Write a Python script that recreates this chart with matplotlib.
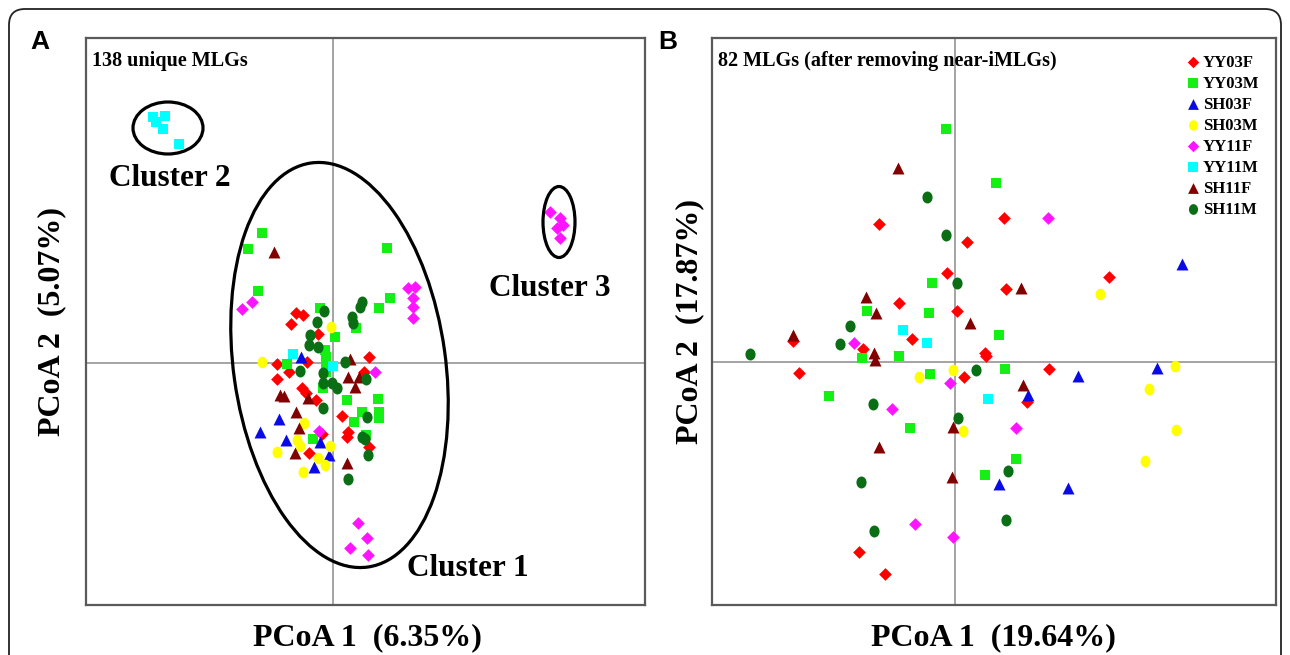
import matplotlib
matplotlib.use("Agg")
import matplotlib.pyplot as plt
from matplotlib.patches import Ellipse, FancyBboxPatch
from matplotlib.markers import MarkerStyle
from matplotlib.transforms import Affine2D

# groups, colours, markers
groups = ["YY03F", "YY03M", "SH03F", "SH03M", "YY11F", "YY11M", "SH11F", "SH11M"]
colors = ["#ff0000", "#14f014", "#0a0ae6", "#ffff00", "#ff14ff", "#00ffff", "#820000", "#0a6e14"]

# ---- panel A: 138 unique MLGs (PCoA 1 vs PCoA 2 scores) ----
a_YY03F_x = [-0.37, -0.30, -0.42, -0.15, -0.56, -0.26, 0.36, -0.44, 0.31, -0.56, -0.31, -0.27, -0.17, 0.09, -0.11, 0.14, 0.15, 0.36, -0.24]
a_YY03F_y = [0.50, 0.48, 0.39, 0.29, -0.01, 0.01, 0.06, -0.09, -0.09, -0.16, -0.25, -0.30, -0.37, -0.53, -0.71, -0.74, -0.69, -0.84, -0.90]
a_YY03M_x = [-0.71, -0.85, 0.54, -0.75, 0.57, 0.46, 0.23, -0.13, 0.02, -0.08, -0.07, -0.46, -0.07, -0.07, -0.10, 0.14, 0.45, 0.46, 0.46, 0.29, 0.21, -0.20, 0.33]
a_YY03M_y = [1.30, 1.14, 1.15, 0.72, 0.65, 0.55, 0.35, 0.55, 0.26, 0.13, 0.06, -0.01, -0.02, -0.09, -0.25, -0.37, -0.36, -0.49, -0.55, -0.49, -0.59, -0.76, -0.72]
a_SH03F_x = [-0.32, -0.54, -0.73, -0.47, -0.13, -0.04, -0.19]
a_SH03F_y = [0.06, -0.56, -0.69, -0.77, -0.79, -0.92, -1.04]
a_SH03M_x = [-0.71, -0.02, -0.29, -0.36, -0.33, -0.03, -0.56, -0.15, -0.08, -0.30]
a_SH03M_y = [0.01, 0.36, -0.60, -0.77, -0.83, -0.83, -0.89, -0.95, -1.02, -1.09]
a_YY11F_x = [-0.81, -0.91, 0.75, 0.82, 0.80, 0.80, 0.80, 0.42, -0.14, 0.25, 0.34, 0.17, 0.35, 2.17, 2.27, 2.30, 2.24, 2.27]
a_YY11F_y = [0.61, 0.54, 0.75, 0.76, 0.65, 0.56, 0.45, -0.09, -0.68, -1.60, -1.75, -1.85, -1.92, 1.51, 1.45, 1.38, 1.35, 1.25]
a_YY11M_x = [-0.40, 0.00, -1.80, -1.68, -1.77, -1.70, -1.54]
a_YY11M_y = [0.09, -0.03, 2.46, 2.47, 2.41, 2.34, 2.19]
a_SH11F_x = [-0.59, 0.17, 0.15, 0.26, -0.53, -0.49, -0.25, 0.22, -0.37, -0.34, -0.38, 0.14]
a_SH11F_y = [1.11, 0.04, -0.14, -0.14, -0.32, -0.33, -0.35, -0.24, -0.49, -0.65, -0.90, -1.00]
a_SH11M_x = [0.29, 0.27, 0.19, 0.20, -0.09, -0.16, -0.23, -0.24, -0.15, 0.12, -0.33, -0.10, 0.33, -0.10, -0.01, 0.04, 0.34, -0.10, 0.29, 0.32, 0.35, 0.15]
a_SH11M_y = [0.61, 0.56, 0.46, 0.40, 0.52, 0.41, 0.28, 0.18, 0.16, 0.01, -0.08, -0.10, -0.16, -0.20, -0.20, -0.25, -0.54, -0.45, -0.74, -0.76, -0.92, -1.16]

# ---- panel B: 82 MLGs after removing near-iMLGs ----
b_YY03F_x = [-0.76, 0.12, -0.08, -0.56, 0.02, -0.43, -1.62, -0.92, 0.30, -1.56, 0.09, 0.49, 1.54, 0.51, 0.31, 0.94, 0.72, -0.96, -0.70]
b_YY03F_y = [1.38, 1.20, 0.89, 0.59, 0.51, 0.23, 0.21, 0.13, 0.09, -0.11, -0.15, 1.44, 0.85, 0.73, 0.06, -0.07, -0.40, -1.90, -2.12]
b_YY03M_x = [-0.09, 0.41, -0.23, -0.88, -0.26, -0.93, -0.56, -0.25, -1.26, -0.45, 0.30, 0.44, 0.50, 0.61]
b_YY03M_y = [2.33, 1.79, 0.79, 0.51, 0.49, 0.04, 0.06, -0.12, -0.34, -0.66, -1.13, 0.27, -0.07, -0.97]
b_SH03F_x = [2.27, 1.23, 2.02, 0.73, 0.44, 1.13]
b_SH03F_y = [0.98, -0.14, -0.06, -0.33, -1.22, -1.26]
b_SH03M_x = [-0.36, -0.02, 0.08, 1.45, 2.20, 1.94, 2.21, 1.90]
b_SH03M_y = [-0.15, -0.08, -0.69, 0.68, -0.04, -0.27, -0.68, -0.99]
b_YY11F_x = [-1.01, -0.05, -0.63, -0.40, -0.02, 0.93, 0.61]
b_YY11F_y = [0.19, -0.21, -0.47, -1.62, -1.75, 1.44, -0.66]
b_YY11M_x = [-0.52, -0.28, 0.33]
b_YY11M_y = [0.32, 0.19, -0.37]
b_SH11F_x = [-0.57, -0.89, -0.79, 0.15, -1.62, -0.81, -0.80, -0.02, -0.76, -0.03, 0.66, 0.68]
b_SH11F_y = [1.94, 0.65, 0.49, 0.39, 0.27, 0.09, 0.02, -0.65, -0.85, -1.15, 0.74, -0.23]
b_SH11M_x = [-0.28, -0.09, 0.02, -1.05, -1.15, -2.05, 0.21, -0.82, 0.03, -0.94, -0.81, 0.53, 0.51]
b_SH11M_y = [1.65, 1.27, 0.79, 0.36, 0.18, 0.08, -0.08, -0.42, -0.56, -1.20, -1.69, -1.09, -1.58]

panel_a = [(a_YY03F_x, a_YY03F_y), (a_YY03M_x, a_YY03M_y), (a_SH03F_x, a_SH03F_y), (a_SH03M_x, a_SH03M_y),
           (a_YY11F_x, a_YY11F_y), (a_YY11M_x, a_YY11M_y), (a_SH11F_x, a_SH11F_y), (a_SH11M_x, a_SH11M_y)]
panel_b = [(b_YY03F_x, b_YY03F_y), (b_YY03M_x, b_YY03M_y), (b_SH03F_x, b_SH03F_y), (b_SH03M_x, b_SH03M_y),
           (b_YY11F_x, b_YY11F_y), (b_YY11M_x, b_YY11M_y), (b_SH11F_x, b_SH11F_y), (b_SH11M_x, b_SH11M_y)]

oval = MarkerStyle("o", transform=Affine2D().scale(0.85, 1.0))
markers = ["D", "s", "^", oval, "D", "s", "^", oval]
sizes = [42, 60, 74, 70, 42, 60, 74, 74]

serif = "Liberation Serif"

fig = plt.figure(figsize=(12.9, 6.55), dpi=100)

# background: rounded frame and panel letters (pixel coordinates)
bg = fig.add_axes([0, 0, 1, 1])
bg.set_xlim(0, 1290)
bg.set_ylim(655, 0)
bg.axis("off")
bg.add_patch(FancyBboxPatch((9, 9), 1272, 700, boxstyle="round,pad=0,rounding_size=16",
                            fill=False, lw=1.3, ec="#222222"))
bg.text(40, 42, "A", fontsize=19, fontweight="bold", family="Liberation Sans", ha="center", va="center")
bg.text(668, 42, "B", fontsize=19, fontweight="bold", family="Liberation Sans", ha="center", va="center")


def setup(ax, xlim, ylim):
    ax.set_xlim(*xlim)
    ax.set_ylim(*ylim)
    ax.set_xticks([])
    ax.set_yticks([])
    ax.axhline(0, color="#8c8c8c", lw=1.1, zorder=1)
    ax.axvline(0, color="#8c8c8c", lw=1.1, zorder=1)
    for s in ax.spines.values():
        s.set_color("#5a5a5a")
        s.set_linewidth(1.6)


axA = fig.add_axes([86 / 1290, 1 - 605 / 655, 559 / 1290, 567 / 655])
axB = fig.add_axes([712 / 1290, 1 - 605 / 655, 564 / 1290, 567 / 655])
setup(axA, (-2.47, 3.12), (-2.42, 3.25))
setup(axB, (-2.43, 3.21), (-2.43, 3.24))

for (x, y), c, m, s, g in zip(panel_a, colors, markers, sizes, groups):
    axA.scatter(x, y, s=s, c=c, marker=m, linewidths=0, zorder=3)
for (x, y), c, m, s, g in zip(panel_b, colors, markers, sizes, groups):
    axB.scatter(x, y, s=s, c=c, marker=m, linewidths=0, zorder=3, label=g)

# cluster ellipses in panel A
axA.add_patch(Ellipse((0.065, -0.02), 2.12, 4.08, angle=8, fill=False, lw=2.3, ec="black", zorder=4))
axA.add_patch(Ellipse((-1.65, 2.35), 0.70, 0.52, fill=False, lw=2.3, ec="black", zorder=4))
axA.add_patch(Ellipse((2.26, 1.41), 0.32, 0.71, fill=False, lw=2.3, ec="black", zorder=4))
axA.text(-1.63, 1.85, "Cluster 2", family=serif, fontweight="bold", fontsize=22.5, ha="center", va="center")
axA.text(2.17, 0.75, "Cluster 3", family=serif, fontweight="bold", fontsize=22.5, ha="center", va="center")
axA.text(1.35, -2.05, "Cluster 1", family=serif, fontweight="bold", fontsize=22.5, ha="center", va="center")

axA.text(0.011, 0.96, "138 unique MLGs", transform=axA.transAxes, family=serif,
         fontweight="bold", fontsize=14.5, ha="left", va="center")
axB.text(0.011, 0.96, "82 MLGs (after removing near-iMLGs)", transform=axB.transAxes, family=serif,
         fontweight="bold", fontsize=14.5, ha="left", va="center")

axB.legend(loc="upper right", frameon=False, prop={"family": serif, "weight": "bold", "size": 12},
           handlelength=0.7, handletextpad=0.25, labelspacing=0.3, borderaxespad=0.6,
           markerscale=0.9)

# axis titles
lab = dict(family=serif, fontweight="bold", fontsize=23, ha="center", va="center")
bg.text(367, 638, "PCoA 1  (6.35%)", **lab)
bg.text(993, 638, "PCoA 1  (19.64%)", **lab)
bg.text(52, 322, "PCoA 2  (5.07%)", rotation=90, **lab)
bg.text(690, 322, "PCoA 2  (17.87%)", rotation=90, **lab)

fig.savefig("out.png", dpi=100)
